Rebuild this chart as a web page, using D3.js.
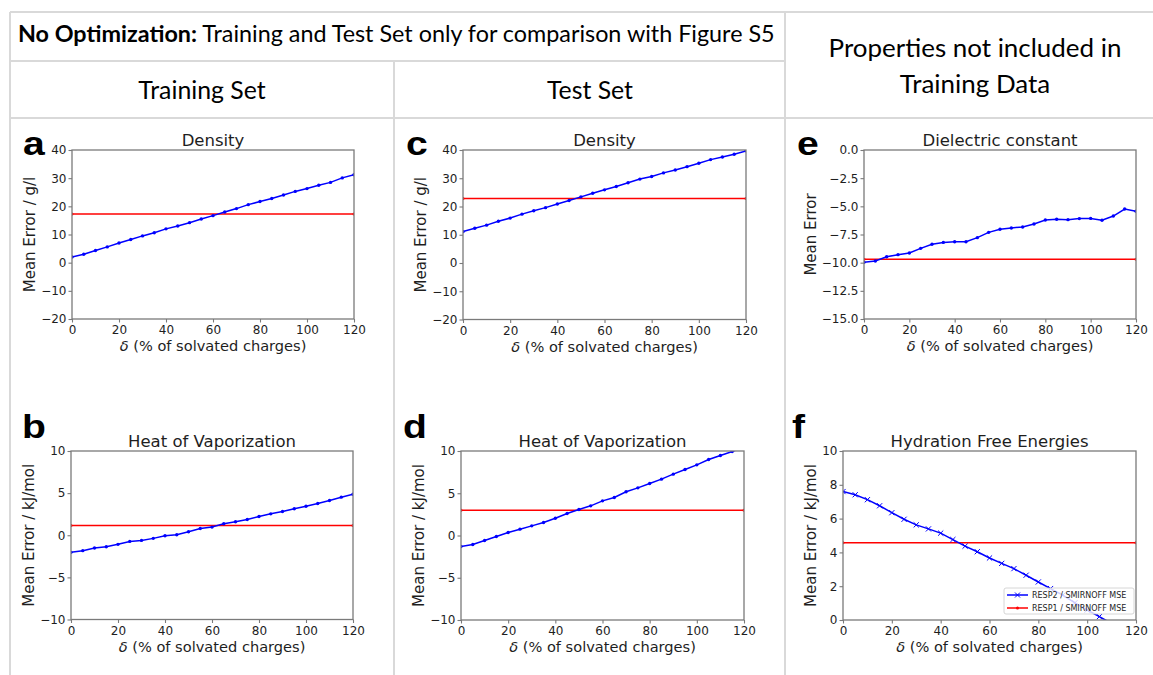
<!DOCTYPE html>
<html>
<head>
<meta charset="utf-8">
<script src="https://cdn.jsdelivr.net/npm/d3@7"></script>
<style>
  body { margin: 0; background: #fff; }
  svg { display: block; }
</style>
</head>
<body>
<svg id="fig" width="1153" height="675"></svg>
<script>
// x values (delta, % of solvated charges) shared by every panel
const deltaPct = [0, 5, 10, 15, 20, 25, 30, 35, 40, 45, 50, 55, 60, 65, 70, 75, 80, 85, 90, 95, 100, 105, 110, 115, 120];
const xTicks = [0, 20, 40, 60, 80, 100, 120];
const refX = [0, 120];

// a - training set density
const densityTrain = [2.0, 3.0, 4.3, 5.6, 7.0, 8.2, 9.5, 10.6, 12.0, 13.0, 14.2, 15.5, 16.7, 18.0, 19.2, 20.6, 21.7, 22.8, 24.0, 25.3, 26.3, 27.5, 28.5, 30.1, 31.2];
const densityTrainRef = 17.3;
// c - test set density
const densityTest = [11.1, 12.3, 13.4, 14.8, 15.9, 17.3, 18.5, 19.6, 20.9, 22.1, 23.4, 24.7, 25.9, 27.1, 28.4, 29.7, 30.6, 31.9, 32.9, 34.1, 35.3, 36.6, 37.5, 38.5, 39.7];
const densityTestRef = 22.8;
// b - training set heat of vaporization
const hvapTrain = [-2.03, -1.83, -1.52, -1.36, -1.08, -0.73, -0.61, -0.37, -0.06, 0.06, 0.41, 0.81, 0.97, 1.36, 1.6, 1.87, 2.23, 2.54, 2.82, 3.14, 3.45, 3.77, 4.12, 4.52, 4.87];
const hvapTrainRef = 1.16;
// d - test set heat of vaporization
const hvapTest = [-1.3, -1.07, -0.6, -0.12, 0.35, 0.75, 1.14, 1.54, 2.05, 2.6, 3.08, 3.51, 4.1, 4.5, 5.17, 5.64, 6.15, 6.67, 7.26, 7.81, 8.36, 8.99, 9.47, 9.94, 10.45];
const hvapTestRef = 3.0;
// e - dielectric constant
const dielectric = [-9.97, -9.85, -9.47, -9.29, -9.14, -8.73, -8.37, -8.2, -8.14, -8.14, -7.78, -7.31, -7.04, -6.92, -6.83, -6.57, -6.21, -6.15, -6.18, -6.09, -6.07, -6.24, -5.86, -5.24, -5.44];
const dielectricRef = -9.7;
// f - hydration free energies (line runs out of the axes after ~108)
const hfe = [7.6, 7.41, 7.12, 6.76, 6.35, 5.96, 5.63, 5.39, 5.14, 4.76, 4.37, 4.04, 3.67, 3.35, 3.04, 2.65, 2.25, 1.86, 1.47, 1.02, 0.59, 0.2, -0.2];
const hfeRef = 4.57;

const yTicksDensity = [-20, -10, 0, 10, 20, 30, 40];
const yTicksHvap = [-10, -5, 0, 5, 10];
const yTicksDielectric = [-15, -12.5, -10, -7.5, -5, -2.5, 0];
const yTicksHfe = [0, 2, 4, 6, 8, 10];

const legendLabels = ['RESP2 / SMIRNOFF MSE', 'RESP1 / SMIRNOFF MSE'];

const FONT = '"DejaVu Sans", sans-serif';
const HEAD = 'Lato, "Open Sans", sans-serif';
const spine = '#7a7a7a';
const ink = '#1e1e1e';
const blue = '#0000ff', red = '#ff0000';

const svg = d3.select('#fig');
svg.append('rect').attr('width', 1153).attr('height', 675).attr('fill', '#fff');

// table grid
const grid = [[10, 12, 1153, 12], [10, 61, 785, 61], [10, 118, 1153, 118],
              [10, 12, 10, 675], [394, 61, 394, 675], [785, 12, 785, 675]];
svg.append('g').selectAll('line').data(grid).join('line')
    .attr('x1', d => d[0]).attr('y1', d => d[1]).attr('x2', d => d[2]).attr('y2', d => d[3])
    .attr('stroke', '#d9d9d9').attr('stroke-width', 2);

// scale font-size so the text spans w pixels
function fitWidth(sel, w) {
    const cur = sel.node().getBBox().width;
    const fs = parseFloat(sel.attr('font-size'));
    sel.attr('font-size', fs * w / cur);
    return fs * w / cur;
}

const h1 = svg.append('text').attr('x', 18).attr('y', 42)
    .attr('font-family', HEAD).attr('font-size', 20).attr('fill', '#000');
h1.append('tspan').attr('font-weight', 'bold').text('No Optimization:');
h1.append('tspan').text(' Training and Test Set only for comparison with Figure S5');
fitWidth(h1, 757);

const tr = svg.append('text').attr('x', 202).attr('y', 99).attr('text-anchor', 'middle')
    .attr('font-family', HEAD).attr('font-size', 26).text('Training Set');
const colFs = fitWidth(tr, 128);
svg.append('text').attr('x', 590).attr('y', 99).attr('text-anchor', 'middle')
    .attr('font-family', HEAD).attr('font-size', colFs).text('Test Set');

const pr = svg.append('text').attr('x', 975).attr('y', 57).attr('text-anchor', 'middle')
    .attr('font-family', HEAD).attr('font-size', 24).text('Properties not included in');
const prFs = fitWidth(pr, 293);
svg.append('text').attr('x', 975).attr('y', 93).attr('text-anchor', 'middle')
    .attr('font-family', HEAD).attr('font-size', prFs).text('Training Data');

const panels = [
    {id: 'a', title: 'Density', ylab: 'Mean Error / g/l', ys: densityTrain, ref: densityTrainRef,
     ydom: [-20, 40], yt: yTicksDensity, fmt: d3.format('d'), box: [72, 354, 150, 319], letter: [23, 155]},
    {id: 'c', title: 'Density', ylab: 'Mean Error / g/l', ys: densityTest, ref: densityTestRef,
     ydom: [-20, 40], yt: yTicksDensity, fmt: d3.format('d'), box: [463, 746, 150, 319.5], letter: [406, 155]},
    {id: 'e', title: 'Dielectric constant', ylab: 'Mean Error', ys: dielectric, ref: dielectricRef,
     ydom: [-15, 0], yt: yTicksDielectric, fmt: d3.format('.1f'), box: [864, 1136, 150, 319], letter: [797, 155]},
    {id: 'b', title: 'Heat of Vaporization', ylab: 'Mean Error / kJ/mol', ys: hvapTrain, ref: hvapTrainRef,
     ydom: [-10, 10], yt: yTicksHvap, fmt: d3.format('d'), box: [71, 353, 451, 619.5], letter: [22, 438]},
    {id: 'd', title: 'Heat of Vaporization', ylab: 'Mean Error / kJ/mol', ys: hvapTest, ref: hvapTestRef,
     ydom: [-10, 10], yt: yTicksHvap, fmt: d3.format('d'), box: [461, 744, 451, 620], letter: [403, 438]},
    {id: 'f', title: 'Hydration Free Energies', ylab: 'Mean Error / kJ/mol', ys: hfe, ref: hfeRef,
     ydom: [0, 10], yt: yTicksHfe, fmt: d3.format('d'), box: [843, 1136, 451, 620], letter: [792, 438],
     cross: true, legend: true}
];

panels.forEach(drawPanel);

function drawPanel(p) {
    const [L, R, T, B] = p.box;
    const x = d3.scaleLinear().domain([0, 120]).range([L, R]);
    const y = d3.scaleLinear().domain(p.ydom).range([B, T]);
    const g = svg.append('g');

    g.append('clipPath').attr('id', 'clip-' + p.id)
        .append('rect').attr('x', L).attr('y', T).attr('width', R - L).attr('height', B - T);

    const xa = g.append('g').attr('transform', `translate(0,${B})`)
        .call(d3.axisBottom(x).tickValues(xTicks).tickSize(3.5).tickPadding(3).tickFormat(d3.format('d')));
    const ya = g.append('g').attr('transform', `translate(${L},0)`)
        .call(d3.axisLeft(y).tickValues(p.yt).tickSize(3.5).tickPadding(2).tickFormat(p.fmt));
    [xa, ya].forEach(a => {
        a.select('.domain').remove();
        a.attr('font-family', FONT).attr('font-size', 12);
        a.selectAll('line').attr('stroke', spine).attr('stroke-width', 1.1);
        a.selectAll('text').attr('fill', ink);
    });

    const pts = p.ys.map((v, i) => [deltaPct[i], v]);
    const plot = g.append('g').attr('clip-path', `url(#clip-${p.id})`);

    // reference line (RESP1)
    plot.append('path').datum(refX)
        .attr('d', d3.line().x(d => x(d)).y(() => y(p.ref)))
        .attr('fill', 'none').attr('stroke', red).attr('stroke-width', 1.5);
    plot.selectAll('.rdot').data(refX).join('circle')
        .attr('cx', d => x(d)).attr('cy', y(p.ref)).attr('r', 1.5).attr('fill', red);

    // RESP2 line
    plot.append('path').datum(pts)
        .attr('d', d3.line().x(d => x(d[0])).y(d => y(d[1])))
        .attr('fill', 'none').attr('stroke', blue).attr('stroke-width', 1.5);
    if (p.cross) {
        plot.selectAll('.mk').data(pts).join('path')
            .attr('transform', d => `translate(${x(d[0])},${y(d[1])})`)
            .attr('d', 'M-2.6,-2.6L2.6,2.6M-2.6,2.6L2.6,-2.6')
            .attr('stroke', blue).attr('stroke-width', 1);
    } else {
        plot.selectAll('.mk').data(pts).join('circle')
            .attr('cx', d => x(d[0])).attr('cy', d => y(d[1])).attr('r', 1.7).attr('fill', blue);
    }

    g.append('rect').attr('x', L).attr('y', T).attr('width', R - L).attr('height', B - T)
        .attr('fill', 'none').attr('stroke', spine).attr('stroke-width', 1.3);

    g.append('text').attr('x', (L + R) / 2).attr('y', T - 4).attr('text-anchor', 'middle')
        .attr('font-family', FONT).attr('font-size', 16.5).attr('fill', ink).text(p.title);

    const xl = g.append('text').attr('x', (L + R) / 2).attr('y', B + 32).attr('text-anchor', 'middle')
        .attr('font-family', FONT).attr('font-size', 14.6).attr('fill', ink);
    xl.append('tspan').attr('font-style', 'italic').text('δ');
    xl.append('tspan').text(' (% of solvated charges)');

    const yb = ya.node().getBBox();
    g.append('text').attr('transform', `translate(${L + yb.x - 6},${(T + B) / 2}) rotate(-90)`)
        .attr('text-anchor', 'middle').attr('font-family', FONT).attr('font-size', 15).attr('fill', ink)
        .text(p.ylab);

    svg.append('text').attr('transform', `translate(${p.letter[0]},${p.letter[1]}) scale(1.15,1)`)
        .attr('font-family', '"Liberation Sans", Arial, sans-serif').attr('font-weight', 'bold')
        .attr('font-size', 34).attr('fill', '#000').text(p.id);

    if (p.legend) {
        const lw = 130, lh = 26, lx = R - 2 - lw, ly = B - 6 - lh;
        const lg = g.append('g');
        lg.append('rect').attr('x', lx).attr('y', ly).attr('width', lw).attr('height', lh).attr('rx', 2)
            .attr('fill', '#fff').attr('fill-opacity', 0.8).attr('stroke', '#cccccc').attr('stroke-width', 0.8);
        const rows = lg.selectAll('g.row').data(legendLabels).join('g')
            .attr('transform', (d, i) => `translate(${lx + 3},${ly + 7 + i * 13})`);
        rows.append('line').attr('x1', 0).attr('x2', 21)
            .attr('stroke', (d, i) => i === 0 ? blue : red).attr('stroke-width', 1.5);
        rows.each(function (d, i) {
            const r = d3.select(this);
            if (i === 0) r.append('path').attr('d', 'M8,-2.5L13,2.5M8,2.5L13,-2.5').attr('stroke', blue).attr('stroke-width', 1);
            else r.append('circle').attr('cx', 10.5).attr('r', 1.5).attr('fill', red);
        });
        rows.append('text').attr('x', 25).attr('dy', '0.35em')
            .attr('font-family', FONT).attr('font-size', 8).attr('fill', ink).text(d => d);
    }
}
</script>
</body>
</html>
